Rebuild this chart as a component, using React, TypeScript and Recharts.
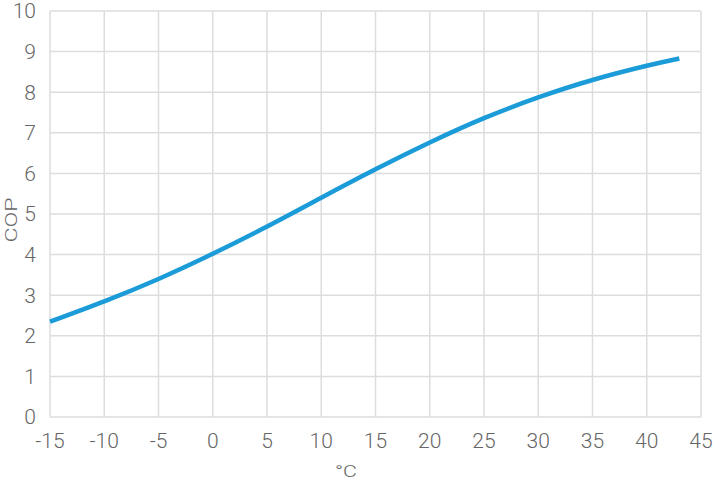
import React from "react";
import { LineChart, Line, XAxis, YAxis, CartesianGrid, Label } from "recharts";

// COP vs outdoor temperature
const temps = [-15, -10, -5, 0, 5, 10, 15, 20, 25, 30, 35, 40, 43];
const cop = [2.35, 2.85, 3.4, 4.02, 4.69, 5.4, 6.1, 6.76, 7.36, 7.87, 8.3, 8.65, 8.83];

const xTicks = [-15, -10, -5, 0, 5, 10, 15, 20, 25, 30, 35, 40, 45];
const yTicks = [0, 1, 2, 3, 4, 5, 6, 7, 8, 9, 10];

const data = temps.map((t, i) => ({ t, cop: cop[i] }));

const FONT = "Roboto, 'Noto Sans', sans-serif";
const TEXT = "#666666";
const tick = { fill: TEXT, fontSize: 21, fontFamily: FONT, fontWeight: 300 };

export default function App() {
  return (
    <div style={{ position: "absolute", left: 0, top: 0 }}>
      <LineChart
        width={718}
        height={485}
        data={data}
        margin={{ top: 11, right: 17, bottom: 0, left: 0 }}
      >
        <CartesianGrid stroke="#dddddd" strokeWidth={1.5} />
        <XAxis
          dataKey="t"
          type="number"
          domain={[-15, 45]}
          ticks={xTicks}
          interval={0}
          height={68}
          axisLine={false}
          tickLine={false}
          tickSize={0}
          tickMargin={16}
          tick={tick}
        >
          <Label
            content={() => (
              <text
                x={346}
                y={471}
                textAnchor="middle"
                dominantBaseline="central"
                fill={TEXT}
                fontSize={17}
                fontFamily={FONT}
                fontWeight={300}
                textLength={22}
                lengthAdjust="spacingAndGlyphs"
              >
                °C
              </text>
            )}
          />
        </XAxis>
        <YAxis
          type="number"
          domain={[0, 10]}
          ticks={yTicks}
          interval={0}
          width={50}
          axisLine={false}
          tickLine={false}
          tickSize={0}
          tickMargin={14}
          tick={tick}
        >
          <Label
            content={() => (
              <text
                x={11.5}
                y={220}
                transform="rotate(-90 11.5 220)"
                textAnchor="middle"
                dominantBaseline="central"
                fill={TEXT}
                fontSize={16}
                fontFamily={FONT}
                fontWeight={300}
                textLength={45}
                lengthAdjust="spacingAndGlyphs"
              >
                COP
              </text>
            )}
          />
        </YAxis>
        <Line
          type="natural"
          dataKey="cop"
          stroke="#1b9cd8"
          strokeWidth={4.5}
          dot={false}
          isAnimationActive={false}
        />
      </LineChart>
    </div>
  );
}
